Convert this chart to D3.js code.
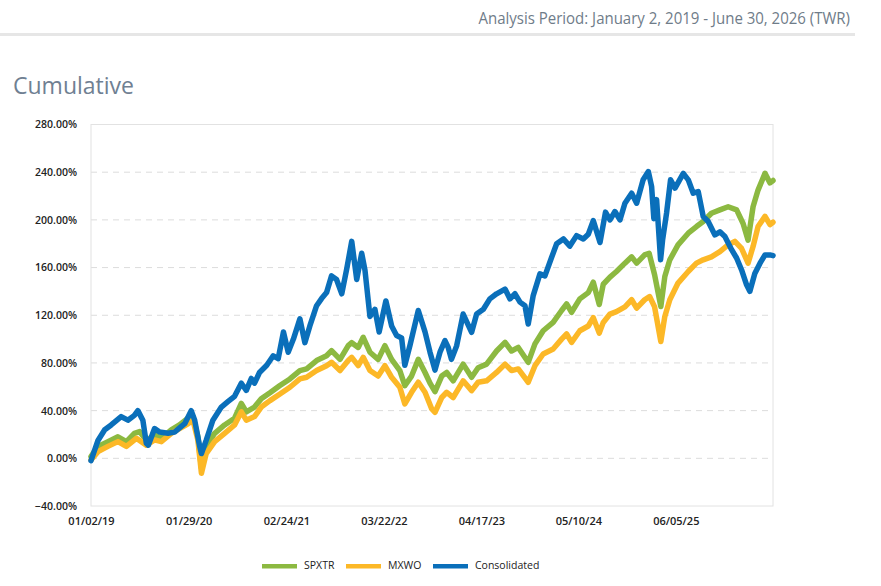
<!DOCTYPE html>
<html>
<head>
<meta charset="utf-8">
<script src="https://cdn.jsdelivr.net/npm/d3@7"></script>
<style>
  body { margin: 0; background: #fff; }
  svg { display: block; font-family: "Open Sans", sans-serif; }
</style>
</head>
<body>
<div id="chart"></div>
<script>
// Cumulative returns, in percent
const spxtr = [
  ["2019-01-02", 1.4], ["2019-01-30", 10], ["2019-03-11", 14], ["2019-04-20", 18], ["2019-05-24", 14],
  ["2019-06-25", 21], ["2019-07-16", 22.4], ["2019-08-12", 15], ["2019-09-14", 19.6], ["2019-10-11", 16.8],
  ["2019-11-20", 23.8], ["2019-12-23", 28], ["2020-01-26", 33.6], ["2020-02-15", 35], ["2020-03-06", 18],
  ["2020-03-20", -8], ["2020-04-08", 10], ["2020-05-12", 21], ["2020-06-21", 28], ["2020-07-31", 33.6],
  ["2020-08-27", 46], ["2020-09-16", 39], ["2020-10-19", 43], ["2020-11-15", 50], ["2020-12-20", 55],
  ["2021-01-29", 61], ["2021-03-10", 66.6], ["2021-04-19", 73.6], ["2021-05-16", 75], ["2021-06-25", 82],
  ["2021-08-04", 86], ["2021-08-24", 90.3], ["2021-09-27", 83], ["2021-10-30", 94.5], ["2021-11-13", 97],
  ["2021-12-09", 93], ["2021-12-29", 101.5], ["2022-01-25", 89], ["2022-02-27", 83], ["2022-03-26", 94.5],
  ["2022-04-22", 83], ["2022-05-25", 73.6], ["2022-06-14", 61], ["2022-07-11", 69], ["2022-08-07", 83],
  ["2022-09-03", 72], ["2022-09-23", 63], ["2022-10-13", 56], ["2022-11-09", 69], ["2022-11-29", 72],
  ["2022-12-25", 65], ["2023-02-03", 79], ["2023-03-09", 68], ["2023-04-04", 76], ["2023-05-08", 79],
  ["2023-06-17", 90], ["2023-07-21", 97.3], ["2023-08-16", 90], ["2023-09-12", 93], ["2023-10-22", 80.5],
  ["2023-11-18", 96], ["2023-12-21", 107], ["2024-01-30", 114], ["2024-03-04", 124], ["2024-03-24", 129.5],
  ["2024-04-13", 122.5], ["2024-05-16", 133.7], ["2024-06-19", 139], ["2024-07-09", 147.7], ["2024-08-02", 129],
  ["2024-08-18", 146], ["2024-09-14", 152], ["2024-10-10", 156.7], ["2024-11-13", 163.7], ["2024-12-10", 169],
  ["2024-12-30", 163.7], ["2025-01-31", 170.6], ["2025-02-18", 172], ["2025-03-12", 154], ["2025-04-06", 127.3],
  ["2025-04-22", 152.5], ["2025-05-12", 166.5], ["2025-06-14", 179], ["2025-07-25", 188.8], ["2025-08-27", 194.4],
  ["2025-09-23", 198.6], ["2025-10-26", 205.6], ["2025-11-29", 208.4], ["2026-01-01", 211], ["2026-02-04", 208.4],
  ["2026-03-02", 197], ["2026-03-22", 183], ["2026-04-11", 211], ["2026-05-01", 225], ["2026-05-29", 239],
  ["2026-06-18", 231], ["2026-06-30", 233]
];

const mxwo = [
  ["2019-01-02", -1.4], ["2019-01-30", 5.6], ["2019-03-11", 10], ["2019-04-20", 14], ["2019-05-24", 10],
  ["2019-07-03", 16.8], ["2019-08-12", 11], ["2019-09-14", 15.4], ["2019-10-11", 14], ["2019-11-20", 21],
  ["2019-12-23", 25], ["2020-01-26", 29], ["2020-02-15", 32], ["2020-03-06", 15], ["2020-03-20", -12.6],
  ["2020-04-08", 4], ["2020-05-12", 14], ["2020-06-21", 21], ["2020-07-31", 28], ["2020-08-27", 39],
  ["2020-09-16", 32], ["2020-10-19", 35], ["2020-11-15", 43], ["2020-12-20", 48.4], ["2021-01-29", 54],
  ["2021-03-10", 59.6], ["2021-04-19", 66.6], ["2021-05-16", 68], ["2021-06-25", 73.6], ["2021-08-04", 77.7],
  ["2021-08-24", 80.5], ["2021-09-27", 73.6], ["2021-10-30", 82], ["2021-11-13", 84.7], ["2021-12-09", 77.7],
  ["2021-12-29", 84.7], ["2022-01-25", 73.6], ["2022-02-27", 69], ["2022-03-26", 77.7], ["2022-04-22", 68],
  ["2022-05-25", 59.6], ["2022-06-14", 45.6], ["2022-07-11", 55.4], ["2022-08-07", 63.8], ["2022-09-03", 55.4],
  ["2022-09-30", 41.4], ["2022-10-13", 38.6], ["2022-11-09", 51], ["2022-11-29", 55.4], ["2022-12-25", 51],
  ["2023-02-03", 65], ["2023-03-09", 56.8], ["2023-04-04", 63.8], ["2023-05-08", 65], ["2023-06-17", 72],
  ["2023-07-21", 79], ["2023-08-16", 73.6], ["2023-09-12", 75], ["2023-10-22", 63.8], ["2023-11-18", 77.7],
  ["2023-12-21", 87.5], ["2024-01-30", 91.7], ["2024-03-04", 100], ["2024-03-24", 104.3], ["2024-04-13", 97.3],
  ["2024-05-16", 107], ["2024-06-19", 111], ["2024-07-09", 118], ["2024-08-02", 105], ["2024-08-18", 114],
  ["2024-09-14", 121], ["2024-10-10", 123], ["2024-11-13", 127], ["2024-12-10", 133], ["2024-12-30", 126],
  ["2025-01-31", 133], ["2025-02-20", 135.7], ["2025-03-12", 127], ["2025-04-06", 98], ["2025-04-22", 119],
  ["2025-05-12", 133], ["2025-06-14", 147], ["2025-07-25", 156.7], ["2025-08-27", 163.7], ["2025-09-23", 166.5],
  ["2025-10-26", 169], ["2025-11-29", 173.4], ["2026-01-01", 179], ["2026-01-28", 182], ["2026-02-24", 176],
  ["2026-03-22", 163.7], ["2026-04-11", 177.6], ["2026-05-01", 194.4], ["2026-05-29", 203], ["2026-06-18", 196],
  ["2026-06-30", 198]
];

const consolidated = [
  ["2019-01-02", -2], ["2019-01-30", 15], ["2019-02-26", 24], ["2019-03-24", 28], ["2019-05-03", 35],
  ["2019-05-30", 32], ["2019-06-25", 36], ["2019-07-09", 40], ["2019-07-29", 32], ["2019-08-12", 12.6],
  ["2019-08-20", 11], ["2019-09-14", 25], ["2019-10-04", 22], ["2019-11-07", 21], ["2019-12-03", 22],
  ["2020-01-13", 29], ["2020-02-08", 40], ["2020-02-22", 32], ["2020-03-13", 10], ["2020-03-20", 4],
  ["2020-04-08", 15], ["2020-05-05", 32], ["2020-06-08", 43], ["2020-07-04", 47.5], ["2020-07-31", 52],
  ["2020-08-27", 63], ["2020-09-16", 57], ["2020-10-06", 67], ["2020-10-19", 63], ["2020-11-08", 72],
  ["2020-12-07", 78], ["2021-01-02", 86], ["2021-01-22", 83.6], ["2021-02-12", 106], ["2021-03-03", 89],
  ["2021-03-24", 100], ["2021-04-19", 117], ["2021-05-09", 97], ["2021-05-29", 111], ["2021-06-25", 128],
  ["2021-07-15", 134], ["2021-08-04", 139], ["2021-08-24", 153], ["2021-09-13", 150], ["2021-10-04", 138],
  ["2021-10-24", 159], ["2021-11-13", 182], ["2021-12-03", 150], ["2021-12-23", 172], ["2022-01-05", 158],
  ["2022-01-25", 119], ["2022-02-14", 125], ["2022-03-03", 106], ["2022-03-30", 132], ["2022-04-22", 111],
  ["2022-05-12", 103], ["2022-06-01", 101], ["2022-06-14", 78], ["2022-07-05", 95], ["2022-08-07", 124],
  ["2022-09-03", 106], ["2022-09-23", 89], ["2022-10-13", 74], ["2022-11-02", 89], ["2022-11-22", 98.7],
  ["2022-12-05", 93], ["2022-12-18", 83], ["2023-01-08", 94.5], ["2023-02-03", 121], ["2023-03-09", 105.7],
  ["2023-03-29", 121], ["2023-04-25", 125], ["2023-05-21", 133.7], ["2023-06-17", 138], ["2023-07-21", 142],
  ["2023-08-10", 133.7], ["2023-08-30", 138], ["2023-09-19", 131], ["2023-10-09", 128], ["2023-10-22", 112.7],
  ["2023-11-11", 136.5], ["2023-12-08", 154.7], ["2023-12-28", 153], ["2024-01-24", 168.6], ["2024-02-13", 180],
  ["2024-03-11", 184], ["2024-04-06", 178], ["2024-05-03", 186.8], ["2024-05-30", 184], ["2024-06-19", 188],
  ["2024-07-09", 199.4], ["2024-08-05", 181], ["2024-08-27", 206.5], ["2024-09-14", 200], ["2024-10-04", 207],
  ["2024-10-24", 200], ["2024-11-13", 214], ["2024-12-10", 222.4], ["2024-12-30", 214], ["2025-01-25", 233.6],
  ["2025-02-15", 240.5], ["2025-02-28", 228], ["2025-03-09", 201], ["2025-03-20", 217], ["2025-04-05", 166.5],
  ["2025-04-13", 183], ["2025-04-29", 205.6], ["2025-05-15", 233.6], ["2025-06-02", 226.6], ["2025-07-05", 239],
  ["2025-07-25", 233.6], ["2025-08-14", 222.4], ["2025-09-03", 223.8], ["2025-09-23", 202.8], ["2025-10-13", 198.6],
  ["2025-11-09", 187.4], ["2025-11-29", 190], ["2025-12-19", 186], ["2026-01-15", 175], ["2026-02-04", 168],
  ["2026-02-24", 158], ["2026-03-16", 145.5], ["2026-03-29", 140], ["2026-04-18", 155], ["2026-05-09", 163.7],
  ["2026-05-29", 170.6], ["2026-06-18", 170.6], ["2026-06-30", 170]
];

const seriesNames = ["SPXTR", "MXWO", "Consolidated"];
const seriesColors = ["#8cb941", "#fcb827", "#0a6fba"];
const xTickLabels = ["01/02/19", "01/29/20", "02/24/21", "03/22/22", "04/17/23", "05/10/24", "06/05/25"];
const yTicks = [-40, 0, 40, 80, 120, 160, 200, 240, 280];
const periodStart = "2019-01-02";
const periodEnd = "2026-06-30";

const width = 881, height = 586;
const plot = {left: 91, right: 773, top: 124.5, bottom: 506};

const parseIso = d3.timeParse("%Y-%m-%d");
const parseLabel = d3.timeParse("%m/%d/%y");

const svg = d3.select("#chart").append("svg")
    .attr("width", width)
    .attr("height", height);

// header, squeezed horizontally to match the narrow face of the original
let header = svg.append("g");
let headerText = header.append("text")
    .attr("x", 0)
    .attr("y", 0)
    .attr("text-anchor", "end")
    .attr("font-size", 17)
    .attr("fill", "#6f7c89")
    .text("Analysis Period: January 2, 2019 - June 30, 2026 (TWR)");
let headerScale = 372 / headerText.node().getComputedTextLength();
header.attr("transform", "translate(850,23.5) scale(" + headerScale + ",1)");

svg.append("rect")
    .attr("x", 0).attr("y", 33)
    .attr("width", 855).attr("height", 3)
    .attr("fill", "#e6e6e6");

svg.append("text")
    .attr("x", 13)
    .attr("y", 93.5)
    .attr("font-size", 23)
    .attr("fill", "#6f8092")
    .text("Cumulative");

// scales
let x = d3.scaleTime()
    .domain([parseIso(periodStart), parseIso(periodEnd)])
    .range([plot.left, plot.right]);

let y = d3.scaleLinear()
    .domain([-40, 280])
    .range([plot.bottom, plot.top]);

// grid lines
svg.append("g")
    .selectAll("line")
    .data(yTicks.filter(v => v > -40 && v < 280))
    .enter().append("line")
    .attr("x1", plot.left).attr("x2", plot.right)
    .attr("y1", d => y(d)).attr("y2", d => y(d))
    .attr("stroke", "#dcdcdc")
    .attr("stroke-dasharray", "6,5")
    .attr("stroke-width", 1);

// plot frame
svg.append("rect")
    .attr("x", plot.left).attr("y", plot.top)
    .attr("width", plot.right - plot.left)
    .attr("height", plot.bottom - plot.top)
    .attr("fill", "none")
    .attr("stroke", "#e2e2e2")
    .attr("stroke-width", 1);

// y axis labels
let yAxis = d3.axisLeft(y)
    .tickValues(yTicks)
    .tickSize(0)
    .tickPadding(14)
    .tickFormat(d => d3.format(".2f")(d) + "%");

svg.append("g")
    .attr("transform", "translate(" + plot.left + ",0)")
    .call(yAxis)
    .call(g => g.select(".domain").remove())
    .selectAll("text")
    .attr("font-family", "Open Sans, sans-serif")
    .attr("font-size", 10.5)
    .attr("font-weight", 600)
    .attr("fill", "#222");

// x axis labels
let xAxis = d3.axisBottom(x)
    .tickValues(xTickLabels.map(parseLabel))
    .tickSize(0)
    .tickPadding(11)
    .tickFormat(d3.timeFormat("%m/%d/%y"));

svg.append("g")
    .attr("transform", "translate(0," + plot.bottom + ")")
    .call(xAxis)
    .call(g => g.select(".domain").remove())
    .selectAll("text")
    .attr("font-family", "Open Sans, sans-serif")
    .attr("font-size", 11)
    .attr("font-weight", 600)
    .attr("fill", "#222");

// lines
let line = d3.line()
    .x(d => x(parseIso(d[0])))
    .y(d => y(d[1]));

[spxtr, mxwo, consolidated].forEach((s, i) => {
    svg.append("path")
        .datum(s)
        .attr("d", line)
        .attr("fill", "none")
        .attr("stroke", seriesColors[i])
        .attr("stroke-width", 5.5)
        .attr("stroke-linejoin", "round")
        .attr("stroke-linecap", "round");
});

// legend
let legendX = [262, 346, 433];
let legend = svg.append("g");
seriesNames.forEach((name, i) => {
    legend.append("rect")
        .attr("x", legendX[i]).attr("y", 564)
        .attr("width", 35).attr("height", 4.5)
        .attr("fill", seriesColors[i]);
    legend.append("text")
        .attr("x", legendX[i] + 42)
        .attr("y", 568.5)
        .attr("font-size", 10.5)
        .attr("fill", "#222")
        .text(name);
});
</script>
</body>
</html>
